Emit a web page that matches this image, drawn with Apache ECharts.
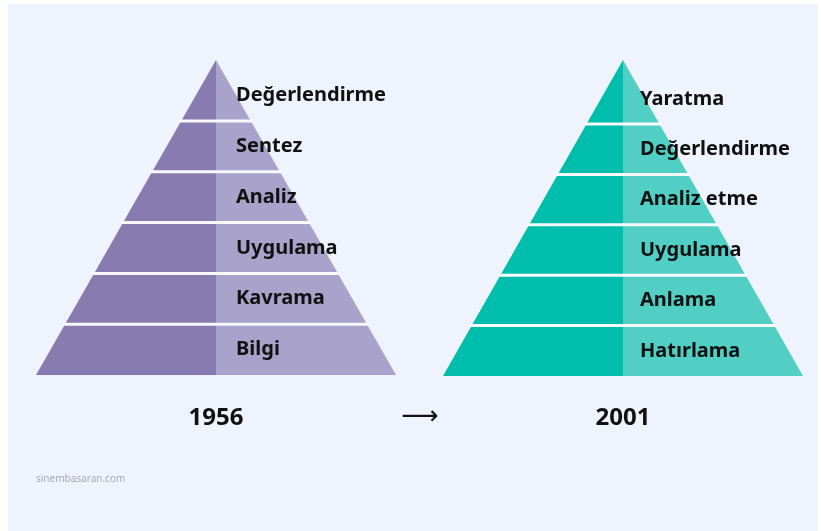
<!DOCTYPE html>
<html>
<head>
<meta charset="utf-8">
<script src="https://cdn.jsdelivr.net/npm/echarts@6/dist/echarts.min.js"></script>
<style>
  html, body { margin: 0; padding: 0; background: #ffffff; }
  #chart { width: 821px; height: 531px; }
</style>
</head>
<body>
<div id="chart"></div>
<script>
// basamaklar alttan üste
const levels1956 = ['Bilgi', 'Kavrama', 'Uygulama', 'Analiz', 'Sentez', 'Değerlendirme']
const levels2001 = ['Hatırlama', 'Anlama', 'Uygulama', 'Analiz etme', 'Değerlendirme', 'Yaratma']
const years = ['1956', '2001']
// piramitlerin tepe noktası (y ekseninde)
const apex = [6.2, 6.27]

const myChart = echarts.init(document.getElementById('chart'))

function pyramidItem(names, top0, dark, light, labelGap) {
  return function (params, api) {
    const lv = api.value(0)
    const top = lv === names.length - 1 ? top0 : lv + 1
    const p = (x, y) => api.coord([x, y])
    const b0 = top0 - lv
    const b1 = top0 - top
    const children = [
      {
        type: 'polygon',
        shape: { points: [p(-b0, lv), p(0, lv), p(0, top), p(-b1, top)] },
        style: { fill: dark }
      },
      {
        type: 'polygon',
        shape: { points: [p(0, lv), p(b0, lv), p(b1, top), p(0, top)] },
        style: { fill: light }
      },
      {
        type: 'text',
        x: p(0, lv)[0] + labelGap,
        y: p(0, lv + 0.5)[1],
        style: {
          text: names[params.dataIndex],
          fill: '#111111',
          font: 'bold 20px "Noto Sans"',
          textAlign: 'left',
          textVerticalAlign: 'middle'
        }
      }
    ]
    if (lv > 0) {
      const l = p(-b0, lv)
      const r = p(b0, lv)
      children.push({
        type: 'line',
        shape: { x1: l[0] - 2, y1: l[1], x2: r[0] + 2, y2: r[1] },
        style: { stroke: '#f7f9ff', lineWidth: 3 }
      })
    }
    return { type: 'group', children }
  }
}

myChart.setOption({
  backgroundColor: '#ffffff',
  animation: false,
  grid: [
    { left: 36, top: 60, width: 360, height: 315 },
    { left: 443, top: 60, width: 360, height: 316 }
  ],
  xAxis: [
    { gridIndex: 0, type: 'value', min: -apex[0], max: apex[0], show: false },
    { gridIndex: 1, type: 'value', min: -apex[1], max: apex[1], show: false }
  ],
  yAxis: [
    { gridIndex: 0, type: 'value', min: 0, max: apex[0], show: false },
    { gridIndex: 1, type: 'value', min: 0, max: apex[1], show: false }
  ],
  graphic: [
    {
      type: 'rect',
      z: -10,
      shape: { x: 8, y: 4, width: 810, height: 527 },
      style: { fill: '#eff3fe' }
    },
    {
      type: 'text', x: 216, y: 418,
      style: { text: years[0], font: 'bold 24px "Noto Sans"', fill: '#111111', textAlign: 'center', textVerticalAlign: 'middle' }
    },
    {
      type: 'text', x: 623, y: 418,
      style: { text: years[1], font: 'bold 24px "Noto Sans"', fill: '#111111', textAlign: 'center', textVerticalAlign: 'middle' }
    },
    {
      type: 'text', x: 420, y: 417,
      style: { text: '⟶', font: '26px "DejaVu Sans"', fill: '#111111', textAlign: 'center', textVerticalAlign: 'middle' }
    },
    {
      type: 'text', x: 36, y: 479,
      style: { text: 'sinembasaran.com', font: '10px "Noto Sans"', fill: '#a8a8b2', textAlign: 'left', textVerticalAlign: 'middle' }
    }
  ],
  series: [
    {
      type: 'custom',
      xAxisIndex: 0,
      yAxisIndex: 0,
      renderItem: pyramidItem(levels1956, apex[0], '#877bb0', '#a9a3cb', 20),
      data: levels1956.map((name, i) => [i])
    },
    {
      type: 'custom',
      xAxisIndex: 1,
      yAxisIndex: 1,
      renderItem: pyramidItem(levels2001, apex[1], '#00bdac', '#52cfc5', 17),
      data: levels2001.map((name, i) => [i])
    }
  ]
})
</script>
</body>
</html>
